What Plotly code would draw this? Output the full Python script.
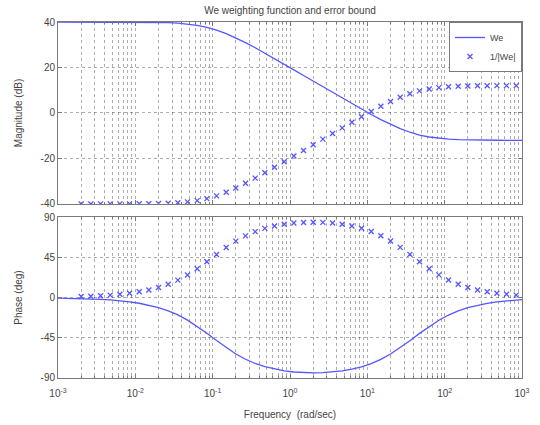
import plotly.graph_objects as go
from plotly.subplots import make_subplots

# Frequency grid (rad/sec) for the weighting function curve
w_line = [0.001, 0.001995, 0.002661, 0.003548, 0.004732, 0.006310, 0.008414,
          0.01122, 0.01496, 0.01995, 0.02661, 0.03548, 0.04732, 0.06310, 0.08414,
          0.1122, 0.1496, 0.1995, 0.2661, 0.3548, 0.4732, 0.6310, 0.8414,
          1.122, 1.496, 1.995, 2.661, 3.548, 4.732, 6.310, 8.414,
          11.22, 14.96, 19.95, 26.61, 35.48, 47.32, 63.10, 84.14,
          112.2, 149.6, 199.5, 266.1, 354.8, 473.2, 631.0, 841.4, 1000.0]

# We magnitude (dB) and phase (deg)
we_mag = [40.00, 40.00, 40.00, 39.99, 39.99, 39.98, 39.97, 39.95, 39.90, 39.83,
          39.70, 39.49, 39.12, 38.54, 37.68, 36.46, 34.89, 33.03, 30.93, 28.67,
          26.31, 23.89, 21.44, 18.96, 16.49, 14.00, 11.51, 9.03, 6.56, 4.11,
          1.69, -0.67, -2.93, -5.03, -6.91, -8.48, -9.70, -10.57, -11.15, -11.52,
          -11.74, -11.87, -11.94, -11.99, -12.01, -12.02, -12.03, -12.03]
we_phase = [-0.57, -1.14, -1.52, -2.03, -2.71, -3.61, -4.80, -6.39, -8.50, -11.25,
            -14.86, -19.48, -25.26, -32.16, -39.96, -48.13, -56.03, -63.09, -69.03, -73.75,
            -77.39, -80.10, -82.01, -83.30, -84.04, -84.27, -84.05, -83.32, -82.04, -80.12,
            -77.44, -73.82, -69.11, -63.20, -56.16, -48.27, -40.09, -32.28, -25.35, -19.58,
            -14.93, -11.31, -8.52, -6.41, -4.81, -3.61, -2.71, -2.28]

# Frequency grid (rad/sec) for the error bound markers
w_mark = [0.001995, 0.002661, 0.003548, 0.004732, 0.006310, 0.008414,
          0.01122, 0.01496, 0.01995, 0.02661, 0.03548, 0.04732, 0.06310, 0.08414,
          0.1122, 0.1496, 0.1995, 0.2661, 0.3548, 0.4732, 0.6310, 0.8414,
          1.122, 1.496, 1.995, 2.661, 3.548, 4.732, 6.310, 8.414,
          11.22, 14.96, 19.95, 26.61, 35.48, 47.32, 63.10, 84.14,
          112.2, 149.6, 199.5, 266.1, 354.8, 473.2, 631.0, 841.4]

# 1/|We| magnitude (dB) and phase (deg)
inv_mag = [-40.00, -40.00, -39.99, -39.99, -39.98, -39.97, -39.95, -39.90, -39.83, -39.70,
           -39.49, -39.12, -38.54, -37.68, -36.46, -34.89, -33.03, -30.93, -28.67, -26.31,
           -23.89, -21.44, -18.96, -16.49, -14.00, -11.51, -9.03, -6.56, -4.11, -1.69,
           0.67, 2.93, 5.03, 6.91, 8.48, 9.70, 10.57, 11.15, 11.52, 11.74,
           11.87, 11.94, 11.99, 12.01, 12.02, 12.03]
inv_phase = [1.14, 1.52, 2.03, 2.71, 3.61, 4.80, 6.39, 8.50, 11.25, 14.86,
             19.48, 25.26, 32.16, 39.96, 48.13, 56.03, 63.09, 69.03, 73.75, 77.39,
             80.10, 82.01, 83.30, 84.04, 84.27, 84.05, 83.32, 82.04, 80.12, 77.44,
             73.82, 69.11, 63.20, 56.16, 48.27, 40.09, 32.28, 25.35, 19.58, 14.93,
             11.31, 8.52, 6.41, 4.81, 3.61, 2.71]

# Axis ticks
x_ticks = [1e-3, 1e-2, 1e-1, 1e0, 1e1, 1e2, 1e3]
x_ticktext = ["10<sup>-3</sup>", "10<sup>-2</sup>", "10<sup>-1</sup>", "10<sup>0</sup>",
              "10<sup>1</sup>", "10<sup>2</sup>", "10<sup>3</sup>"]
mag_ticks = [-40, -20, 0, 20, 40]
mag_ticktext = ["-40", "-20", "0", "20", "40"]
phase_ticks = [-90, -45, 0, 45, 90]
phase_ticktext = ["-90", "-45", "0", "45", "90"]
x_minor = [m * d for d in x_ticks[:-1] for m in range(2, 10)]

BLUE = "rgb(85,85,255)"
FONT = "Liberation Sans, Arial, sans-serif"
GRID = "rgba(0,0,0,0.32)"
FRAME = "#7a7a7a"
TEXT = "#444"

fig = make_subplots(rows=2, cols=1, shared_xaxes=True)

fig.add_trace(go.Scatter(x=w_line, y=we_mag, mode="lines", name="We",
                         line=dict(color=BLUE, width=1.3)), row=1, col=1)
fig.add_trace(go.Scatter(x=w_mark, y=inv_mag, mode="markers", name="1/|We|",
                         marker=dict(symbol="x-thin", size=5, color=BLUE,
                                     line=dict(color=BLUE, width=1.3))), row=1, col=1)
fig.add_trace(go.Scatter(x=w_line, y=we_phase, mode="lines", showlegend=False,
                         line=dict(color=BLUE, width=1.3)), row=2, col=1)
fig.add_trace(go.Scatter(x=w_mark, y=inv_phase, mode="markers", showlegend=False,
                         marker=dict(symbol="x-thin", size=5, color=BLUE,
                                     line=dict(color=BLUE, width=1.3))), row=2, col=1)

common_x = dict(type="log", range=[-3, 3], tickmode="array", tickvals=x_ticks,
                automargin=False,
                showgrid=True, gridcolor=GRID, griddash="dot", gridwidth=1,
                showline=True, linecolor=FRAME, linewidth=1, mirror="ticks",
                ticks="inside", ticklen=4, tickcolor=FRAME, zeroline=False,
                minor=dict(tickmode="array", tickvals=x_minor, showgrid=True,
                           gridcolor=GRID, griddash="dot", gridwidth=1,
                           ticks="inside", ticklen=2, tickcolor=FRAME),
                tickfont=dict(family=FONT, size=10, color=TEXT))
fig.update_xaxes(**common_x)
fig.update_xaxes(showticklabels=False, row=1, col=1)
fig.update_xaxes(ticktext=x_ticktext, showticklabels=True, ticklabelstandoff=6,
                 title=dict(text="Frequency  (rad/sec)", standoff=12,
                            font=dict(family=FONT, size=10, color=TEXT)),
                 row=2, col=1)

common_y = dict(showgrid=True, gridcolor=GRID, griddash="dot", gridwidth=1,
                automargin=False,
                showline=True, linecolor=FRAME, linewidth=1, mirror="ticks",
                ticks="inside", ticklen=4, tickcolor=FRAME, zeroline=False,
                tickfont=dict(family=FONT, size=10, color=TEXT))
fig.update_yaxes(**common_y)
fig.update_yaxes(range=[-40, 40], tickmode="array", tickvals=mag_ticks,
                 ticktext=mag_ticktext,
                 title=dict(text="Magnitude (dB)", standoff=16,
                            font=dict(family=FONT, size=10, color=TEXT)),
                 row=1, col=1)
fig.update_yaxes(range=[-90, 90], tickmode="array", tickvals=phase_ticks,
                 ticktext=phase_ticktext,
                 title=dict(text="Phase (deg)", standoff=16,
                            font=dict(family=FONT, size=10, color=TEXT)),
                 row=2, col=1)

fig.update_layout(
    width=540, height=425,
    margin=dict(l=58, r=18, t=22, b=47, autoexpand=False),
    paper_bgcolor="white", plot_bgcolor="white",
    title=dict(text="We weighting function and error bound", x=0.537, xanchor="center",
               y=0.976, yanchor="middle", font=dict(family=FONT, size=10, color=TEXT)),
    yaxis=dict(domain=[0.489, 1.0]),
    yaxis2=dict(domain=[0.0, 0.452]),
    legend=dict(x=1.0, y=1.0, xanchor="right", yanchor="top",
                bgcolor="white", bordercolor=FRAME, borderwidth=1,
                font=dict(family=FONT, size=9, color=TEXT),
                itemwidth=30, tracegroupgap=0),
    showlegend=True,
)

fig.write_html("out.html")
